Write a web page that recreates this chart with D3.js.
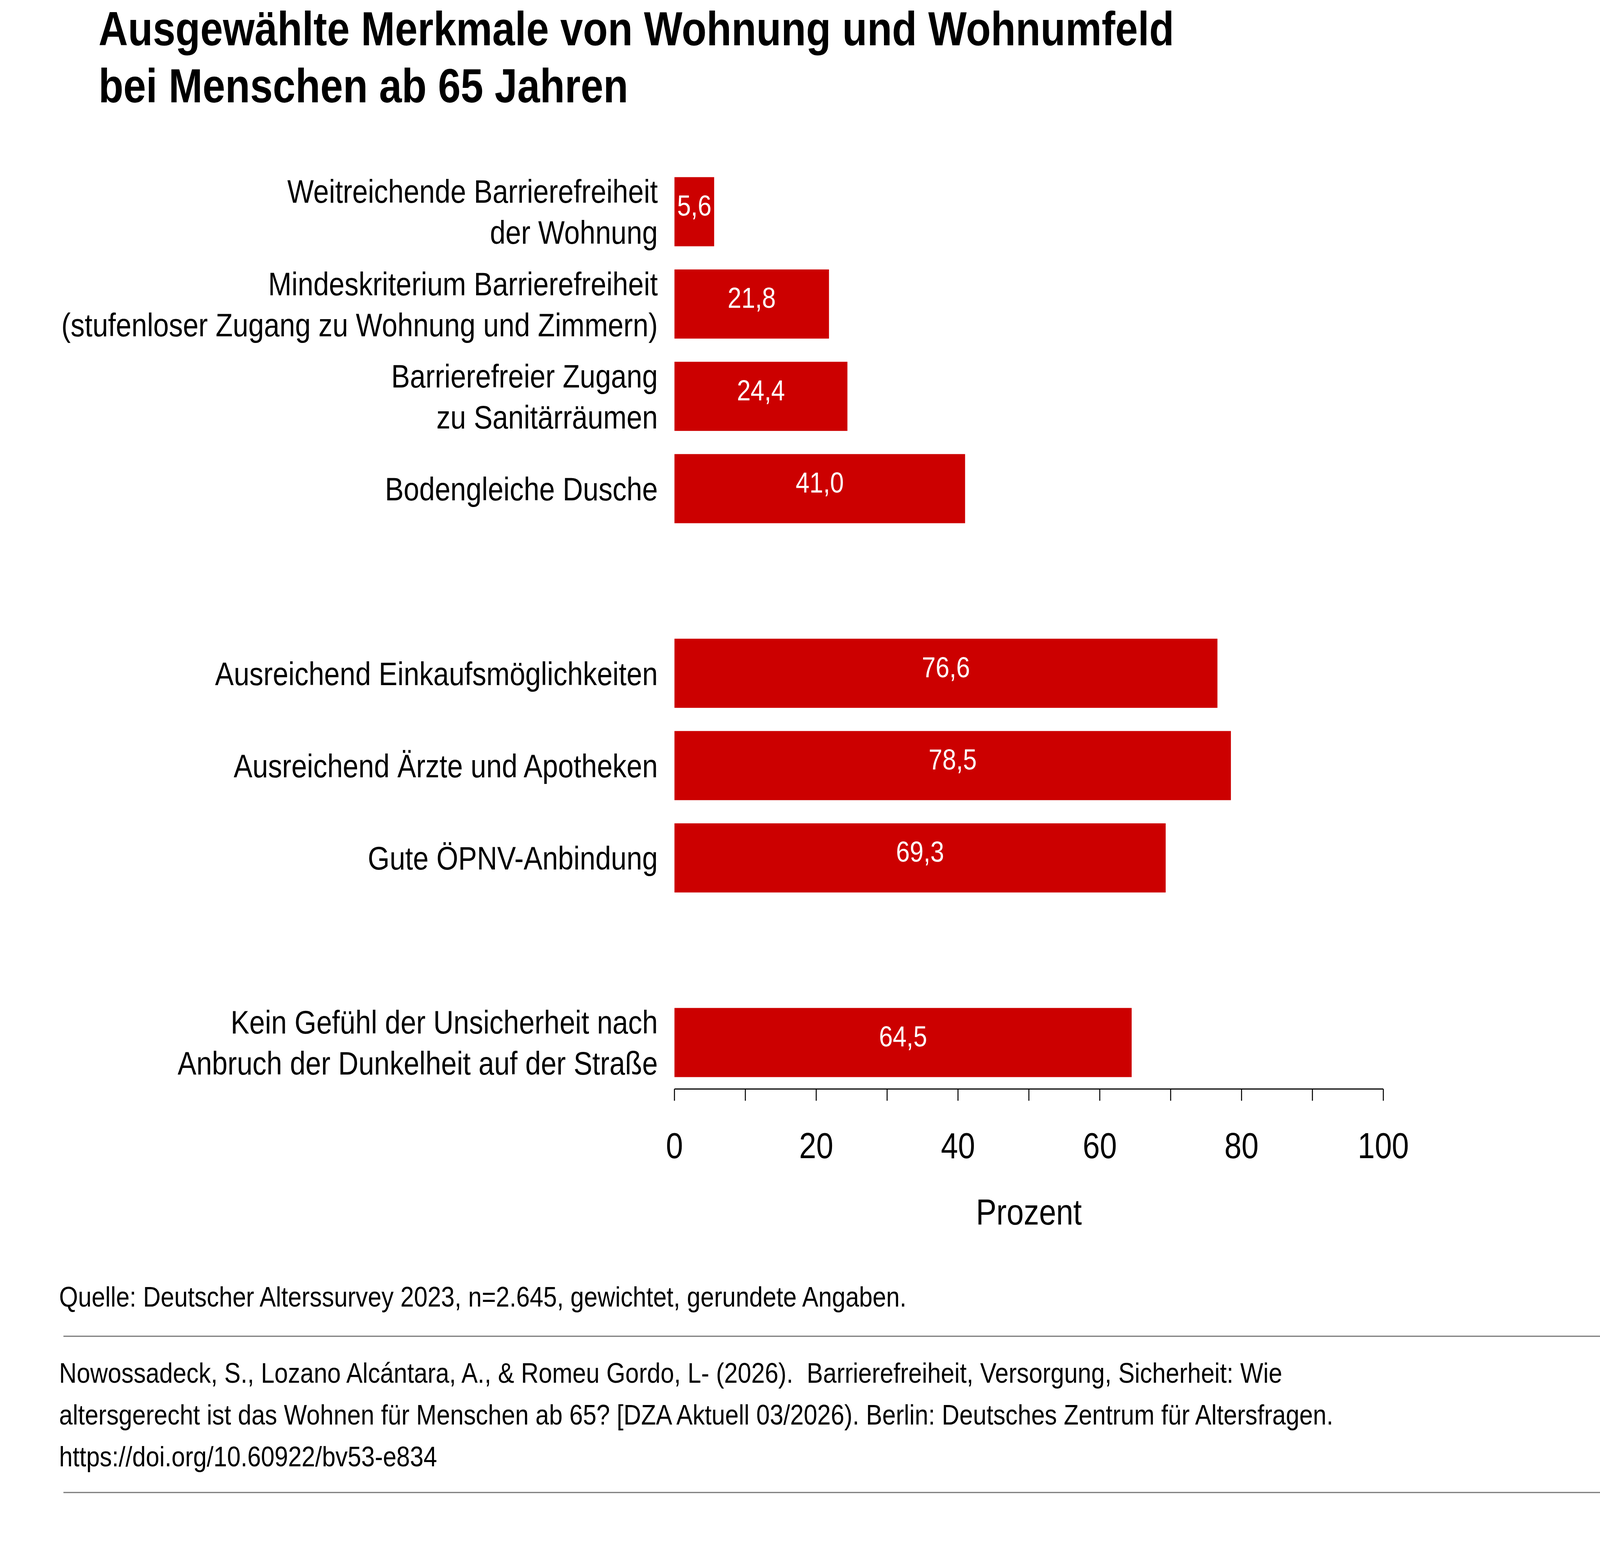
<!DOCTYPE html>
<html><head><meta charset="utf-8">
<script src="https://cdn.jsdelivr.net/npm/d3@7"></script>
<style>html,body{margin:0;background:#fff;overflow:hidden}svg{position:fixed;left:0;top:0;width:100vw;height:100vh}text{font-family:"Liberation Sans",Arial,sans-serif}</style>
</head><body><div id="chart"></div>
<script>
// Data
const categories = [
  ["Weitreichende Barrierefreiheit", "der Wohnung"],
  ["Mindeskriterium Barrierefreiheit", "(stufenloser Zugang zu Wohnung und Zimmern)"],
  ["Barrierefreier Zugang", "zu Sanitärräumen"],
  ["Bodengleiche Dusche"],
  ["Ausreichend Einkaufsmöglichkeiten"],
  ["Ausreichend Ärzte und Apotheken"],
  ["Gute ÖPNV-Anbindung"],
  ["Kein Gefühl der Unsicherheit nach", "Anbruch der Dunkelheit auf der Straße"]
]
const values = [5.6, 21.8, 24.4, 41.0, 76.6, 78.5, 69.3, 64.5]
const slots = [0, 1, 2, 3, 5, 6, 7, 9]
const ticks = [0, 20, 40, 60, 80, 100]

const width = 4792, height = 3981
const svg = d3.select("#chart").append("svg")
  .attr("viewBox", `0 0 ${width} ${height}`).attr("preserveAspectRatio", "none")

const x = d3.scaleLinear().domain([0, 100]).range([2020, 4143])
const y = d3.scaleLinear().domain([0, 9]).range([542, 2669])
const barH = 177
const fmt = (v) => d3.format(".1f")(v).replace(".", ",")

// Title
svg.append("text").attr("x", 295).attr("y", 116).attr("font-size", 122).attr("font-weight", "bold").text("Ausgewählte Merkmale von Wohnung und Wohnumfeld")
svg.append("text").attr("x", 295).attr("y", 262).attr("font-size", 122).attr("font-weight", "bold").text("bei Menschen ab 65 Jahren")

// Bars
const rows = svg.append("g").selectAll("g").data(values).enter().append("g")
rows.append("rect")
  .attr("x", x(0)).attr("y", (d, i) => y(slots[i]) - barH / 2)
  .attr("width", (d) => x(d) - x(0)).attr("height", barH).attr("fill", "#cc0000")
rows.append("text")
  .attr("x", (d) => (x(0) + x(d)) / 2).attr("y", (d, i) => y(slots[i]) + 10)
  .attr("text-anchor", "middle").attr("font-size", 74).attr("fill", "#fff").text(fmt)

// Category labels
rows.each(function (d, i) {
  const lines = categories[i]
  const t = d3.select(this).append("text").attr("text-anchor", "end").attr("font-size", 84)
  lines.forEach((l, k) => {
    t.append("tspan").attr("x", 1970)
      .attr("y", y(slots[i]) + 30 + (k - (lines.length - 1) / 2) * 105).text(l)
  })
})

// Axis
const axisY = 2788
svg.append("line").attr("x1", x(0)).attr("x2", x(100)).attr("y1", axisY).attr("y2", axisY).attr("stroke", "#000").attr("stroke-width", 3)
svg.append("g").selectAll("line").data(d3.range(0, 101, 10)).enter().append("line")
  .attr("x1", (d) => x(d)).attr("x2", (d) => x(d)).attr("y1", axisY).attr("y2", axisY + 30)
  .attr("stroke", "#000").attr("stroke-width", 3)
svg.append("g").selectAll("text").data(ticks).enter().append("text")
  .attr("x", (d) => x(d)).attr("y", 2965).attr("text-anchor", "middle").attr("font-size", 92).text((d) => d)
svg.append("text").attr("x", x(50)).attr("y", 3135).attr("text-anchor", "middle").attr("font-size", 92).text("Prozent")

// Footer
svg.append("text").attr("x", 177).attr("y", 3345).attr("font-size", 73).text("Quelle: Deutscher Alterssurvey 2023, n=2.645, gewichtet, gerundete Angaben.")
svg.append("line").attr("x1", 190).attr("x2", 4792).attr("y1", 3421).attr("y2", 3421).attr("stroke", "#777").attr("stroke-width", 3)
const cite = [
  "Nowossadeck, S., Lozano Alcántara, A., & Romeu Gordo, L- (2026).  Barrierefreiheit, Versorgung, Sicherheit: Wie",
  "altersgerecht ist das Wohnen für Menschen ab 65? [DZA Aktuell 03/2026). Berlin: Deutsches Zentrum für Altersfragen.",
  "https://doi.org/10.60922/bv53-e834"
]
svg.append("g").selectAll("text").data(cite).enter().append("text")
  .attr("x", 177).attr("y", (d, i) => 3540 + i * 107).attr("font-size", 73).attr("xml:space", "preserve").text((d) => d)
svg.append("line").attr("x1", 190).attr("x2", 4792).attr("y1", 3821).attr("y2", 3821).attr("stroke", "#777").attr("stroke-width", 3)
</script></body></html>
